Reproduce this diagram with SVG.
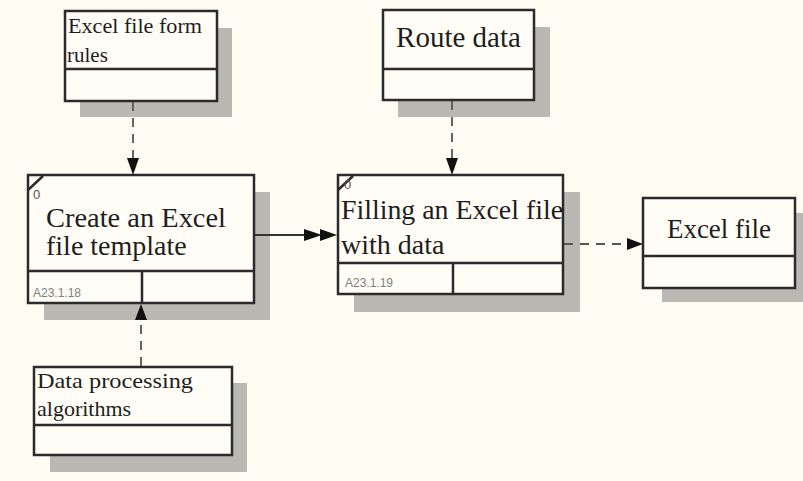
<svg xmlns="http://www.w3.org/2000/svg" width="803" height="481" viewBox="0 0 803 481">
<style>
.shadow{fill:#bab8b2}
.box{fill:#fffdf6;stroke:#2b2b2b;stroke-width:2.5}
.div{stroke:#2b2b2b;stroke-width:2.5;fill:none}
.t{font-family:"Liberation Serif","Times New Roman",serif;fill:#1e1e1e}
.id{font-family:"Liberation Sans",Arial,sans-serif;font-size:12px;fill:#808080}
.sup{font-family:"Liberation Sans",Arial,sans-serif;font-size:13px;fill:#555}
.solid{stroke:#333;stroke-width:1.8;fill:none}
.dash{stroke:#555;stroke-width:1.8;fill:none;stroke-dasharray:9,7}
.ah{fill:#111}
</style>
<rect x="0" y="0" width="803" height="481" fill="#fdfbf2"/>

<g id="node-rules">
<rect class="shadow" x="80" y="28" width="152" height="89"/>
<rect class="box" x="65" y="11" width="152" height="90"/>
<line class="div" x1="65" y1="69" x2="217" y2="69"/>
<text class="t" x="68" y="33" font-size="21" textLength="134" lengthAdjust="spacingAndGlyphs">Excel file form</text>
<text class="t" x="67" y="62" font-size="21">rules</text>
</g>

<g id="node-route">
<rect class="shadow" x="398" y="27" width="152" height="90"/>
<rect class="box" x="383" y="10" width="151" height="90"/>
<line class="div" x1="383" y1="69" x2="534" y2="69"/>
<text class="t" x="458.5" y="47" font-size="29" text-anchor="middle">Route data</text>
</g>

<g id="node-create">
<rect class="shadow" x="44" y="192" width="226" height="128"/>
<rect class="box" x="28" y="175" width="226" height="128"/>
<line class="div" x1="28" y1="271" x2="254" y2="271"/>
<line class="div" x1="142" y1="271" x2="142" y2="303"/>
<line class="div" x1="28" y1="190" x2="43" y2="176"/>
<text class="sup" x="33" y="199">0</text>
<text class="t" x="46" y="227" font-size="28" textLength="180" lengthAdjust="spacingAndGlyphs">Create an Excel</text>
<text class="t" x="46" y="255" font-size="28">file template</text>
<text class="id" x="33" y="297">A23.1.18</text>
</g>

<g id="node-fill">
<rect class="shadow" x="354" y="192" width="226" height="120"/>
<rect class="box" x="338" y="175" width="225" height="119"/>
<line class="div" x1="338" y1="263" x2="563" y2="263"/>
<line class="div" x1="453" y1="263" x2="453" y2="294"/>
<line class="div" x1="338" y1="190" x2="353" y2="176"/>
<text class="sup" x="344" y="189" font-size="11">0</text>
<text class="t" x="341" y="219" font-size="28" textLength="222" lengthAdjust="spacingAndGlyphs">Filling an Excel file</text>
<text class="t" x="341" y="254" font-size="28">with data</text>
<text class="id" x="345" y="287">A23.1.19</text>
</g>

<g id="node-excel">
<rect class="shadow" x="662" y="213" width="150" height="89"/>
<rect class="box" x="643" y="198" width="152" height="90"/>
<line class="div" x1="643" y1="256" x2="795" y2="256"/>
<text class="t" x="719" y="238" font-size="27" text-anchor="middle">Excel file</text>
</g>

<g id="node-algo">
<rect class="shadow" x="50" y="383" width="197" height="89"/>
<rect class="box" x="34" y="367" width="198" height="88"/>
<line class="div" x1="34" y1="425" x2="232" y2="425"/>
<text class="t" x="37" y="388" font-size="22" textLength="156" lengthAdjust="spacingAndGlyphs">Data processing</text>
<text class="t" x="37" y="416" font-size="22">algorithms</text>
</g>

<g id="connectors">
<line class="dash" x1="133" y1="102" x2="133" y2="160"/>
<polygon class="ah" points="127,158 139,158 133,175"/>
<line class="dash" x1="452" y1="101" x2="452" y2="160"/>
<polygon class="ah" points="446,158 458,158 452,175"/>
<line class="solid" x1="255" y1="235" x2="305" y2="235"/>
<polygon class="ah" points="304,229 304,241 322,235"/>
<polygon class="ah" points="320,229 320,241 337,235"/>
<line class="dash" x1="564" y1="244" x2="628" y2="244"/>
<polygon class="ah" points="627,238 627,250 643,244"/>
<line class="dash" x1="141" y1="366" x2="141" y2="320"/>
<polygon class="ah" points="135,320 147,320 141,304"/>
</g>
</svg>
